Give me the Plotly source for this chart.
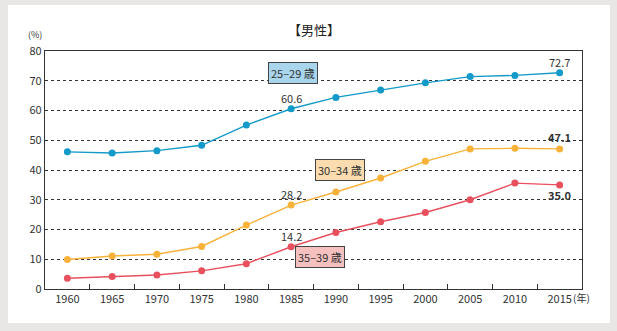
import plotly.graph_objects as go

years = ["1960", "1965", "1970", "1975", "1980", "1985", "1990", "1995", "2000", "2005", "2010", "2015"]
age_25_29 = [46.1, 45.7, 46.5, 48.3, 55.1, 60.6, 64.4, 66.9, 69.3, 71.4, 71.8, 72.7]
age_30_34 = [9.9, 11.1, 11.7, 14.3, 21.5, 28.2, 32.6, 37.3, 42.9, 47.1, 47.3, 47.1]
age_35_39 = [3.6, 4.2, 4.7, 6.1, 8.5, 14.2, 19.0, 22.6, 25.7, 30.0, 35.6, 35.0]
y_ticks = [0, 10, 20, 30, 40, 50, 60, 70, 80]

FONT = "Noto Sans CJK JP"
c_blue = "#139ac9"
c_orange = "#f8b23a"
c_red = "#e9505e"

fig = go.Figure()
for name, vals, col in [("25-29歳", age_25_29, c_blue), ("30-34歳", age_30_34, c_orange), ("35-39歳", age_35_39, c_red)]:
    fig.add_trace(go.Scatter(x=years, y=vals, mode="lines+markers", name=name,
                             line=dict(color=col, width=1.4),
                             marker=dict(color=col, size=7), showlegend=False, cliponaxis=False))

# card background
fig.add_shape(type="rect", xref="paper", yref="paper", x0=-0.069, x1=1.052, y0=-0.143, y1=1.193,
              fillcolor="white", line=dict(width=0), layer="below")

ann = []
def vlab(year, y, text, shift, bold=False):
    ann.append(dict(x=years.index(year), y=y, text=("<b>%s</b>" % text) if bold else text, showarrow=False,
                    yshift=shift, font=dict(family=FONT, size=11, color="#333")))

vlab("2015", age_25_29[11], "72.7", 11)
vlab("1985", age_25_29[5], "60.6", 11)
vlab("2015", age_30_34[11], "47.1", 12, True)
vlab("1985", age_30_34[5], "28.2", 11)
vlab("1985", age_35_39[5], "14.2", 11)
vlab("2015", age_35_39[11], "35.0", -10, True)

def box(x, y, text, fill):
    ann.append(dict(x=x, y=y, xref="x", yref="y", text=text, showarrow=False,
                    bgcolor=fill, bordercolor="#444", borderwidth=1, borderpad=2,
                    font=dict(family=FONT, size=11, color="#333")))

box(5.05, 72.6, "25–29 歳", "#a9d6ec")
box(6.1, 40.0, "30–34 歳", "#fbdcae")
box(5.65, 10.6, "35–39 歳", "#f6c0bf")

ann.append(dict(xref="paper", yref="paper", x=0.5, y=1.09, text="【男性】", showarrow=False,
                font=dict(family=FONT, size=13, color="#222"), xanchor="center", yanchor="middle"))
ann.append(dict(xref="paper", yref="paper", x=-0.018, y=1.07, text="(%)", showarrow=False,
                font=dict(family=FONT, size=9, color="#333"), xanchor="center", yanchor="middle"))
ann.append(dict(xref="paper", yref="paper", x=0.98, y=-0.035, text="(年)", showarrow=False,
                font=dict(family=FONT, size=10, color="#333"), xanchor="left", yanchor="middle"))

fig.update_layout(
    width=617, height=331,
    margin=dict(l=45, r=35, t=51, b=42),
    paper_bgcolor="#e8e7e5", plot_bgcolor="white",
    annotations=ann,
    xaxis=dict(type="category", range=[-0.5, 11.5], tickson="boundaries", ticks="inside", ticklen=5,
               tickcolor="#333", showgrid=False, showline=True, linecolor="#333", linewidth=1.2, mirror=True,
               tickfont=dict(family=FONT, size=11, color="#333")),
    yaxis=dict(range=[0, 80], tickvals=y_ticks, showgrid=True, gridcolor="#333", griddash="dot", gridwidth=1,
               showline=True, linecolor="#333", linewidth=1.2, mirror=True, ticks="", zeroline=False,
               tickfont=dict(family=FONT, size=11, color="#333")),
)
fig.write_html("out.html")
